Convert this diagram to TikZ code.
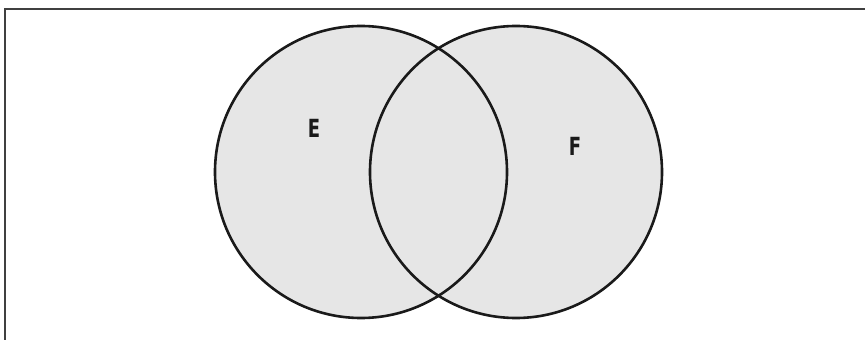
\documentclass[tikz,border=0pt]{standalone}
\usepackage{fontspec}
\newfontfamily\lblfont{DejaVu Sans Condensed}
\definecolor{vfill}{HTML}{E6E6E6}
\definecolor{vline}{HTML}{1A1A1A}
\tikzset{
  setfill/.style={fill=vfill},
  setline/.style={draw=vline, line width=2.6pt},
  lbl/.style={font=\lblfont\bfseries\fontsize{25}{25}\selectfont, text=vline, xscale=0.8},
  frameline/.style={draw=black!75, line width=1.1pt}
}
\begin{document}
\begin{tikzpicture}[x=1pt,y=-1pt]
\useasboundingbox (0,0) rectangle (865,340);
\coordinate (ctop) at (5,9);
\coordinate (ctr) at (865,9);
\coordinate (cbl) at (5,340);
\draw[frameline] (cbl) -- (ctop) -- (ctr);
\coordinate (E) at (361,172);
\coordinate (F) at (516,172);
\fill[setfill] (E) circle[radius=146];
\fill[setfill] (F) circle[radius=146];
\draw[setline] (E) circle[radius=146];
\draw[setline] (F) circle[radius=146];
\node[lbl] (le) at (314,128) {E};
\node[lbl] (lf) at (575,146) {F};
\end{tikzpicture}
\end{document}
